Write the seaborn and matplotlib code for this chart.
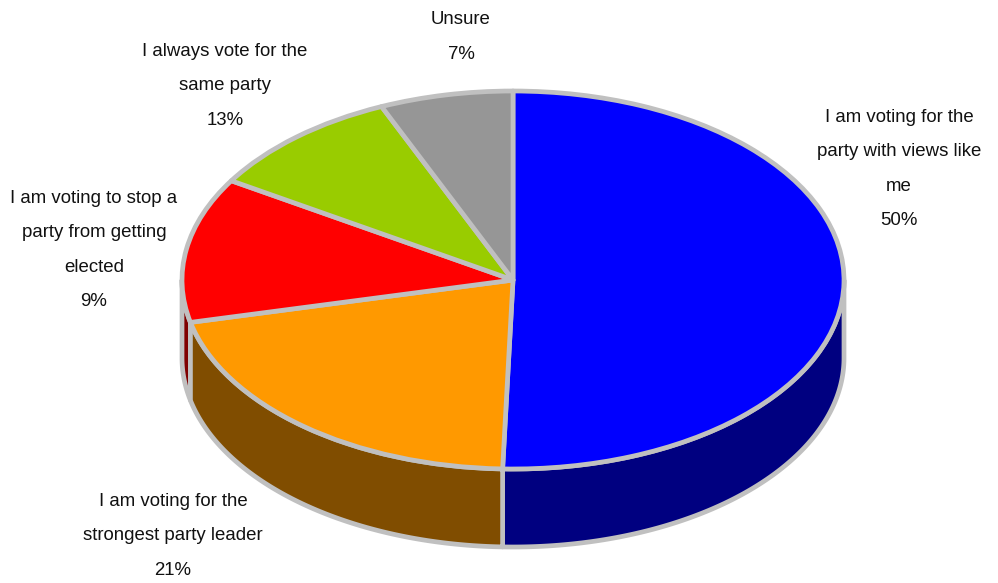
import numpy as np
import matplotlib
matplotlib.use("Agg")
import matplotlib.pyplot as plt
import seaborn as sns

sns.set_theme(style="white")
plt.rcParams['font.family'] = ['Liberation Sans', 'DejaVu Sans']

categories = ["I am voting for the\nparty with views like\nme",
              "I am voting for the\nstrongest party leader",
              "I am voting to stop a\nparty from getting\nelected",
              "I always vote for the\nsame party",
              "Unsure"]
slice_shares = [50.5, 20.9, 12.4, 9.7, 6.5]
printed_pct = ["50%", "21%", "9%", "13%", "7%"]
top_colors = ["#0000FF", "#FF9900", "#FF0000", "#99CC00", "#969696"]
side_colors = ["#000080", "#804D00", "#800000", "#4D6600", "#4B4B4B"]
edge = "#C0C0C0"

W, H = 998, 583
CX, CY, RX, RY, DEPTH = 513, 280, 331, 189, 78
label_xy = [(899, 169), (173, 536), (94, 250), (225, 86), (461, 37)]

fig = plt.figure(figsize=(W/100, H/100), dpi=100)
ax = fig.add_axes([0, 0, 1, 1])
depth = DEPTH / RY

# side walls first (front half of the ellipse only)
fr = np.cumsum([0] + slice_shares) / sum(slice_shares) * 2*np.pi
order = [4, 3, 0, 2, 1]
for i in order:
    a0, a1 = fr[i], fr[i+1]
    lo, hi = max(a0, np.pi/2), min(a1, 3*np.pi/2)
    if lo >= hi:
        continue
    t = np.linspace(lo, hi, 200)
    x, y = np.sin(t), np.cos(t)
    ax.fill(np.r_[x, x[::-1]], np.r_[y, y[::-1] - depth],
            facecolor=side_colors[i], edgecolor=edge, linewidth=3.4, joinstyle="round", zorder=1)

wedges, _ = ax.pie(slice_shares, colors=top_colors, startangle=90, counterclock=False,
                   radius=1, wedgeprops=dict(edgecolor=edge, linewidth=3.4, zorder=2, joinstyle="round"))
ax.set_aspect("auto")
ax.set_xlim(-CX/RX, (W-CX)/RX)
ax.set_ylim(-(H-CY)/RY, CY/RY)
ax.axis("off")

for cat, pct, (px, py) in zip(categories, printed_pct, label_xy):
    fig.text(px/W, 1-py/H, cat + "\n" + pct, ha="center", va="center", fontsize=13.4,
             color="#111111", linespacing=2.35)

fig.savefig("out.png", dpi=100)
